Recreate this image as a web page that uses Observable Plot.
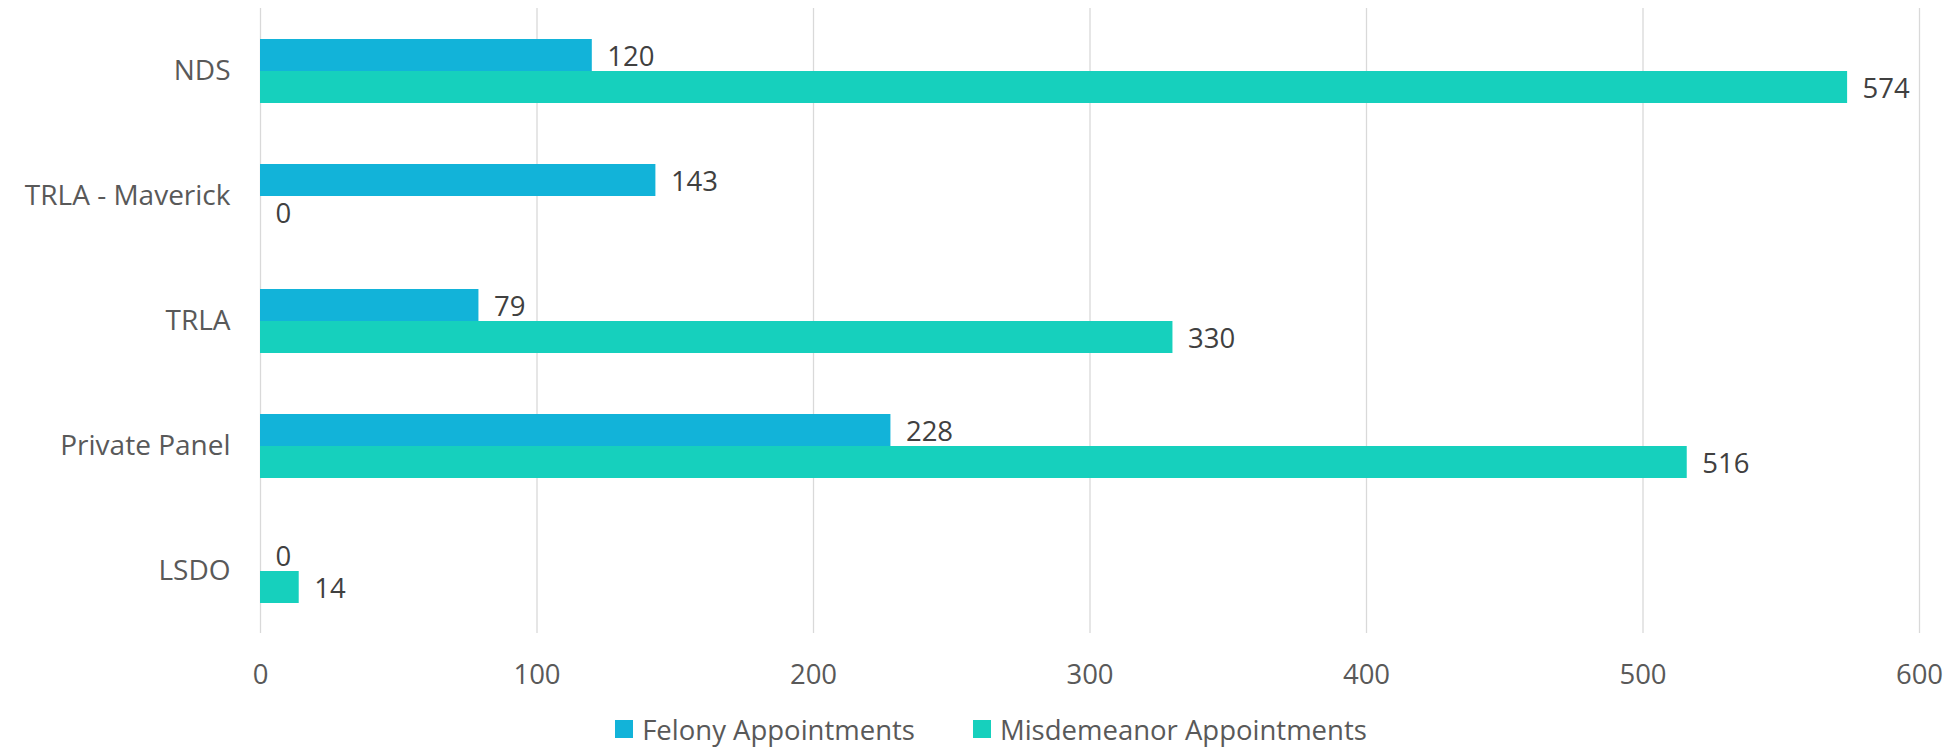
<!DOCTYPE html>
<html>
<head>
<meta charset="utf-8">
<script src="https://cdn.jsdelivr.net/npm/d3@7"></script>
<script src="https://cdn.jsdelivr.net/npm/@observablehq/plot@0.6"></script>
<style>
  html, body { margin: 0; padding: 0; background: #fff; }
  body { width: 1954px; height: 753px; overflow: hidden; font-family: "Open Sans", sans-serif; }
  #legend { display: flex; justify-content: center; align-items: center; height: 48px; gap: 58px; font-size: 27.5px; color: #595959; padding-left: 28px; }
  .item { display: flex; align-items: center; gap: 9px; }
  .sw { width: 18px; height: 18px; display: inline-block; }
</style>
</head>
<body>
<div id="chart"></div>
<div id="legend"></div>
<script>
const categories = ["NDS", "TRLA - Maverick", "TRLA", "Private Panel", "LSDO"];
const series = ["Felony Appointments", "Misdemeanor Appointments"];
const felony = [120, 143, 79, 228, 0];
const misdemeanor = [574, 0, 330, 516, 14];
const colors = ["#12B3D9", "#16D0BD"];
const xTicks = [0, 100, 200, 300, 400, 500, 600];

const data = [];
categories.forEach((c, i) => {
  data.push({category: c, series: series[0], value: felony[i]});
  data.push({category: c, series: series[1], value: misdemeanor[i]});
});

const chart = Plot.plot({
  width: 1954,
  height: 705,
  marginLeft: 260,
  marginRight: 35,
  marginTop: 8,
  marginBottom: 72,
  style: {fontFamily: "'Open Sans', sans-serif", fontSize: "27px", color: "#595959", background: "#fff"},
  x: {domain: [0, 600], ticks: xTicks, label: null},
  y: {domain: series, paddingInner: 0, paddingOuter: 0.923, axis: null},
  fy: {domain: categories, padding: 0, label: null},
  color: {domain: series, range: colors},
  marks: [
    Plot.gridX(xTicks, {stroke: "#d9d9d9", strokeOpacity: 1, strokeWidth: 1.3}),
    Plot.barX(data, {x: "value", y: "series", fy: "category", fill: "series"}),
    Plot.text(data, {x: "value", y: "series", fy: "category", text: d => String(d.value), textAnchor: "start", dx: 15, dy: 2, fill: "#404040", fontSize: 27.5}),
    Plot.axisX({ticks: xTicks, tickSize: 0, tickPadding: 31, label: null, fontSize: 27.5}),
    Plot.axisFy({anchor: "left", tickSize: 0, tickPadding: 30, label: null, fontSize: 28})
  ]
});
document.getElementById("chart").appendChild(chart);

const legend = document.getElementById("legend");
series.forEach((s, i) => {
  const item = document.createElement("div");
  item.className = "item";
  const sw = document.createElement("span");
  sw.className = "sw";
  sw.style.background = colors[i];
  const t = document.createElement("span");
  t.textContent = s;
  item.appendChild(sw);
  item.appendChild(t);
  legend.appendChild(item);
});
</script>
</body>
</html>
